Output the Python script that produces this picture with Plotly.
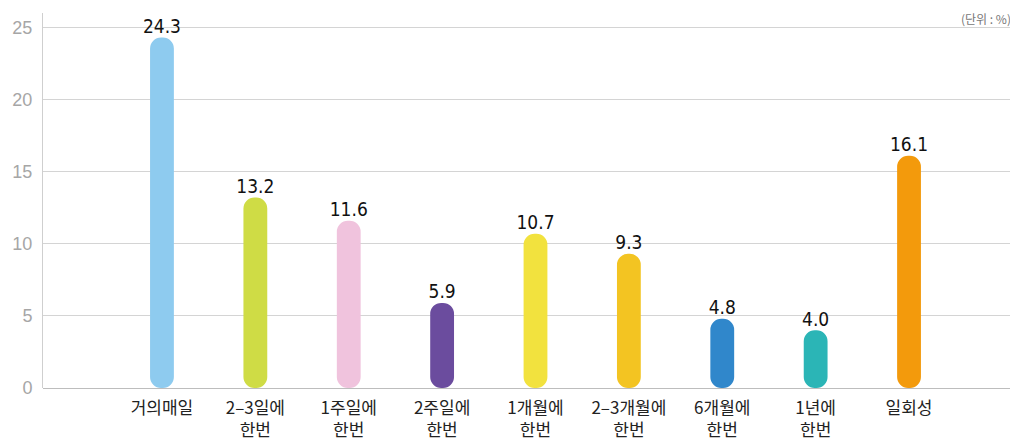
import plotly.graph_objects as go

categories = ["거의매일", "2–3일에<br>한번", "1주일에<br>한번", "2주일에<br>한번", "1개월에<br>한번",
              "2–3개월에<br>한번", "6개월에<br>한번", "1년에<br>한번", "일회성"]
values = [24.3, 13.2, 11.6, 5.9, 10.7, 9.3, 4.8, 4.0, 16.1]
colors = ["#8ecbef", "#cfdc45", "#f0c3dd", "#6b4c9e", "#f2e23e", "#f3c422", "#3087cb", "#2bb5b6", "#f39a0c"]
y_ticks = [0, 5, 10, 15, 20, 25]

x = list(range(len(categories)))

fig = go.Figure()
# explicit base -> both ends rounded
fig.add_trace(go.Bar(x=x, y=values, base=[0] * len(values),
                     marker=dict(color=colors, cornerradius="50%", line=dict(width=0)),
                     width=0.255, hoverinfo="skip", showlegend=False))
fig.add_trace(go.Scatter(x=x, y=values, mode="text", text=[f"{v:.1f}" for v in values],
                         textposition="top center",
                         textfont=dict(family="Liberation Sans Narrow, DejaVu Sans Condensed, Liberation Sans",
                                       size=19, color="#111"),
                         hoverinfo="skip", showlegend=False))

fig.add_annotation(xref="paper", yref="paper", x=0.995, y=1.013, xanchor="right", yanchor="top",
                   text="(단위 : %)", showarrow=False,
                   font=dict(family="Noto Sans CJK KR", size=12, color="#777"))

fig.update_layout(
    width=1010, height=436,
    margin=dict(l=35, r=0, t=5, b=56),
    paper_bgcolor="white", plot_bgcolor="white",
    xaxis=dict(tickmode="array", tickvals=x, ticktext=categories, range=[-1.274, 9.167],
               showgrid=False, zeroline=False, showline=False, ticks="", automargin=False,
               tickfont=dict(family="Noto Sans CJK KR", size=17, color="#222"), ticklabelstandoff=8),
    yaxis=dict(range=[0, 26], tickvals=y_ticks, showgrid=True, gridcolor="#d4d4d4", gridwidth=1,
               zeroline=True, zerolinecolor="#bdbdbd", zerolinewidth=1,
               showline=True, linecolor="#cfcfcf", linewidth=1, ticks="",
               tickfont=dict(family="Liberation Sans", size=18, color="#a6a6a6"), ticklabelstandoff=6),
)

fig.write_html("out.html")
